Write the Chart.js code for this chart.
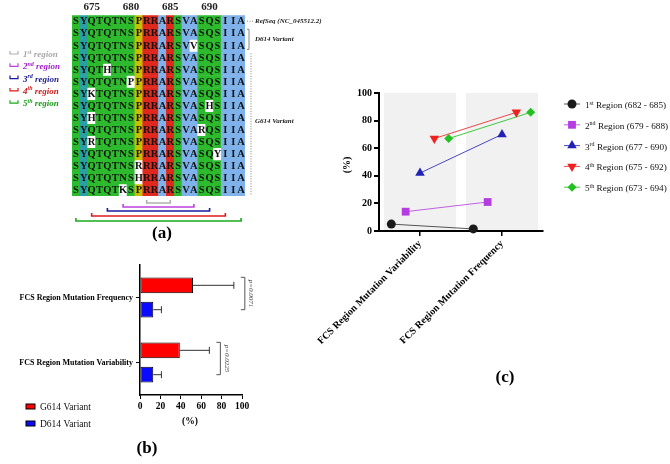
<!DOCTYPE html>
<html>
<head>
<meta charset="utf-8">
<script src="https://cdn.jsdelivr.net/npm/chart.js@4.4.1/dist/chart.umd.min.js"></script>
<style>
  html, body { margin: 0; padding: 0; background: #fff; }
  #wrap { position: relative; width: 670px; height: 464px; overflow: hidden; }
  canvas { position: absolute; }
</style>
</head>
<body>
<div id="wrap">
  <canvas id="alignChart" style="left:0;top:0" width="330" height="250"></canvas>
  <canvas id="barChart" style="left:0;top:250px" width="300" height="214"></canvas>
  <canvas id="regionChart" style="left:300px;top:80px" width="370" height="384"></canvas>
</div>
<script>
// ---- panel (a) data ----
const positions = [673, 674, 675, 676, 677, 678, 679, 680, 681, 682, 683, 684, 685, 686, 687, 688, 689, 690, 691, 692, 693, 694];
const refSeq = ['S', 'Y', 'Q', 'T', 'Q', 'T', 'N', 'S', 'P', 'R', 'R', 'A', 'R', 'S', 'V', 'A', 'S', 'Q', 'S', 'I', 'I', 'A'];
const rowCount = 15;
// mutated residues: row, position, new residue
const mutRows = [2, 4, 5, 6, 7, 8, 9, 10, 11, 12, 13, 14];
const mutPos = [688, 677, 680, 675, 690, 675, 689, 675, 691, 681, 681, 679];
const mutAA = ['V', 'H', 'P', 'K', 'H', 'H', 'R', 'R', 'Y', 'R', 'H', 'K'];
const regionLabels = ['1st', '2nd', '3rd', '4th', '5th'];
const regionStart = [682, 679, 677, 675, 673];
const regionEnd = [685, 688, 690, 692, 694];

// ---- panel (b) data ----
const fcsCategories = ['FCS Region Mutation Frequency', 'FCS Region Mutation Variability'];
const g614Mean = [52, 39];
const g614Err = [40, 29];
const d614Mean = [13, 13];
const d614Err = [8, 8];
const pValues = ['p=0.0071', 'p=0.0225'];

// ---- panel (c) data ----
const cCategories = ['FCS Region Mutation Variability', 'FCS Region Mutation Frequency'];
const regionVariability = [5, 14, 42, 67, 67];
const regionFrequency = [1.5, 21, 70, 86, 86];

const SERIF = '"Liberation Serif", "Times New Roman", serif';
Chart.defaults.font.family = SERIF;
Chart.defaults.color = '#000';

// residue colours (clustal-like)
const aaColor = {
  S: '#2dbb2d', Q: '#2dbb2d', T: '#2dbb2d', N: '#2dbb2d',
  Y: '#2aa0a4', P: '#c4c200', R: '#e0281c',
  A: '#7fb2ea', V: '#7fb2ea', I: '#7fb2ea'
};
const regionColors = ['#b0b0b0', '#c040e0', '#1a1aa0', '#e01a1a', '#1aaa1a'];
const regionTextColors = ['#a8a8a8', '#a020c8', '#1a1a8c', '#cc1a1a', '#1a9a1a'];

// build alignment rows from the reference + mutations
const rows = [];
const mutated = [];
for (let r = 0; r < rowCount; r++) {
  rows.push(refSeq.slice());
  mutated.push(refSeq.map(() => false));
}
mutRows.forEach((r, k) => {
  const i = positions.indexOf(mutPos[k]);
  rows[r][i] = mutAA[k];
  mutated[r][i] = true;
});

function drawOrdinal(ctx, x, y, label, rest, size, style) {
  const num = label.slice(0, -2), suf = label.slice(-2);
  ctx.textAlign = 'left';
  ctx.textBaseline = 'alphabetic';
  ctx.font = `${style} ${size}px ${SERIF}`;
  ctx.fillText(num, x, y);
  x += ctx.measureText(num).width;
  ctx.font = `${style} ${Math.round(size * 0.62)}px ${SERIF}`;
  ctx.fillText(suf, x, y - size * 0.38);
  x += ctx.measureText(suf).width;
  ctx.font = `${style} ${size}px ${SERIF}`;
  ctx.fillText(rest, x, y);
}

// ---------- (a) alignment ----------
const alignPlugin = {
  id: 'alignPlugin',
  afterDatasetsDraw(chart) {
    const { ctx, chartArea, scales: { x, y } } = chart;
    ctx.save();
    ctx.font = `bold 10.5px ${SERIF}`;
    ctx.textAlign = 'center';
    ctx.textBaseline = 'middle';
    ctx.fillStyle = '#111';
    rows.forEach((row, r) => row.forEach((aa, i) => {
      ctx.fillText(aa, x.getPixelForValue(i), y.getPixelForValue(r + 0.5) + 0.5);
    }));

    // right side labels
    const R = chartArea.right;
    ctx.strokeStyle = '#666';
    ctx.lineWidth = 0.8;
    ctx.setLineDash([1, 1.5]);
    ctx.beginPath();
    ctx.moveTo(R + 2, y.getPixelForValue(0.5));
    ctx.lineTo(R + 8, y.getPixelForValue(0.5));
    ctx.moveTo(R + 6, y.getPixelForValue(3) + 2);
    ctx.lineTo(R + 6, y.getPixelForValue(15) - 1);
    ctx.stroke();
    ctx.setLineDash([]);
    ctx.beginPath();
    ctx.moveTo(R + 2, y.getPixelForValue(1) + 2);
    ctx.lineTo(R + 4, y.getPixelForValue(1) + 2);
    ctx.lineTo(R + 4, y.getPixelForValue(3) - 2);
    ctx.lineTo(R + 2, y.getPixelForValue(3) - 2);
    ctx.stroke();
    ctx.fillStyle = '#222';
    ctx.font = `italic bold 7px ${SERIF}`;
    ctx.textAlign = 'left';
    ctx.fillText('RefSeq (NC_045512.2)', R + 10, y.getPixelForValue(0.5));
    ctx.fillText('D614 Variant', R + 10, y.getPixelForValue(2));
    ctx.fillText('G614 Variant', R + 10, y.getPixelForValue(8.8));

    // region brackets under the alignment
    const offs = [7, 11, 15, 20, 25];
    regionStart.forEach((s, k) => {
      const x0 = x.getPixelForValue(positions.indexOf(s));
      const x1 = x.getPixelForValue(positions.indexOf(regionEnd[k]));
      const yy = chartArea.bottom + offs[k];
      ctx.strokeStyle = regionColors[k];
      ctx.lineWidth = 1.6;
      ctx.beginPath();
      ctx.moveTo(x0, yy - 3);
      ctx.lineTo(x0, yy);
      ctx.lineTo(x1, yy);
      ctx.lineTo(x1, yy - 3);
      ctx.stroke();
    });

    // region legend on the left
    regionLabels.forEach((lab, k) => {
      const yy = 54 + k * 12.3;
      ctx.strokeStyle = regionColors[k];
      ctx.lineWidth = 1.2;
      ctx.beginPath();
      ctx.moveTo(10, yy - 3);
      ctx.lineTo(10, yy);
      ctx.lineTo(18, yy);
      ctx.lineTo(18, yy - 3);
      ctx.stroke();
      ctx.fillStyle = regionTextColors[k];
      drawOrdinal(ctx, 23, yy + 3, lab, ' region', 9, 'italic bold');
    });

    ctx.fillStyle = '#000';
    ctx.font = `bold 17px ${SERIF}`;
    ctx.textAlign = 'center';
    ctx.textBaseline = 'middle';
    ctx.fillText('(a)', 162, 234);
    ctx.restore();
  }
};

new Chart(document.getElementById('alignChart'), {
  type: 'bar',
  data: {
    labels: positions.map(String),
    datasets: rows.map((row, r) => ({
      data: row.map(() => [r, r + 1]),
      backgroundColor: row.map((aa, i) => mutated[r][i] ? '#ffffff' : aaColor[refSeq[i]]),
      borderWidth: 0,
      grouped: false,
      barPercentage: 1,
      categoryPercentage: 1
    }))
  },
  options: {
    responsive: false,
    animation: false,
    layout: { padding: { left: 72, right: 85, top: 0, bottom: 54 } },
    plugins: { legend: { display: false }, tooltip: { enabled: false } },
    scales: {
      x: {
        position: 'top',
        grid: { display: false, drawTicks: false },
        border: { display: false },
        ticks: {
          autoSkip: false, maxRotation: 0, padding: 1,
          font: { size: 11, weight: 'bold' }, color: '#222',
          callback: (v, i) => positions[i] % 5 === 0 ? positions[i] : ''
        }
      },
      y: { display: false, reverse: true, min: 0, max: rowCount }
    }
  },
  plugins: [alignPlugin]
});

// ---------- (b) bars ----------
const barPlugin = {
  id: 'barPlugin',
  afterDatasetsDraw(chart) {
    const { ctx, scales: { x } } = chart;
    const gMeta = chart.getDatasetMeta(0).data;
    const dMeta = chart.getDatasetMeta(1).data;
    ctx.save();
    ctx.strokeStyle = '#333';
    ctx.lineWidth = 1;
    const errs = [g614Err, d614Err];
    const means = [g614Mean, d614Mean];
    [gMeta, dMeta].forEach((meta, d) => meta.forEach((bar, i) => {
      const xe = x.getPixelForValue(means[d][i] + errs[d][i]);
      ctx.beginPath();
      ctx.moveTo(bar.x, bar.y);
      ctx.lineTo(xe, bar.y);
      ctx.moveTo(xe, bar.y - 3.5);
      ctx.lineTo(xe, bar.y + 3.5);
      ctx.stroke();
    }));

    // significance brackets
    fcsCategories.forEach((c, i) => {
      const top = gMeta[i].y - 8, bot = dMeta[i].y;
      const bx = Math.max(x.getPixelForValue(g614Mean[i] + g614Err[i]), x.getPixelForValue(d614Mean[i] + d614Err[i])) + 11;
      ctx.strokeStyle = '#555';
      ctx.beginPath();
      ctx.moveTo(bx - 4, top);
      ctx.lineTo(bx, top);
      ctx.lineTo(bx, bot);
      ctx.lineTo(bx - 4, bot);
      ctx.stroke();
      ctx.save();
      ctx.translate(bx + 6, (top + bot) / 2);
      ctx.rotate(Math.PI / 2);
      ctx.fillStyle = '#444';
      ctx.font = `italic 7px ${SERIF}`;
      ctx.textAlign = 'center';
      ctx.textBaseline = 'middle';
      ctx.fillText(pValues[i], 0, 0);
      ctx.restore();
    });

    // legend
    const items = [['G614 Variant', '#ff0000', 154], ['D614 Variant', '#0a0aff', 171]];
    items.forEach(([t, col, yy]) => {
      ctx.fillStyle = col;
      ctx.fillRect(26, yy, 9, 5);
      ctx.strokeStyle = '#000';
      ctx.lineWidth = 1;
      ctx.strokeRect(26, yy, 9, 5);
      ctx.fillStyle = '#111';
      ctx.font = `9.5px ${SERIF}`;
      ctx.textAlign = 'left';
      ctx.textBaseline = 'middle';
      ctx.fillText(t, 40, yy + 3);
    });
    ctx.fillStyle = '#000';
    ctx.textAlign = 'center';
    ctx.font = `bold 9.5px ${SERIF}`;
    ctx.fillText('(%)', 190, 172);
    ctx.font = `bold 17px ${SERIF}`;
    ctx.fillText('(b)', 147, 199);
    ctx.restore();
  }
};

new Chart(document.getElementById('barChart'), {
  type: 'bar',
  data: {
    labels: fcsCategories,
    datasets: [
      { label: 'G614 Variant', data: g614Mean, backgroundColor: '#ff0000', borderColor: '#000', borderWidth: 1, borderSkipped: false },
      { label: 'D614 Variant', data: d614Mean, backgroundColor: '#0a0aff', borderColor: '#000', borderWidth: 1, borderSkipped: false }
    ]
  },
  options: {
    indexAxis: 'y',
    responsive: false,
    animation: false,
    categoryPercentage: 0.75,
    barPercentage: 0.65,
    layout: { padding: { top: 15, right: 58 } },
    plugins: { legend: { display: false }, tooltip: { enabled: false } },
    scales: {
      x: {
        min: 0, max: 100,
        ticks: { stepSize: 20, font: { size: 9.5, weight: 'bold' }, padding: 2, maxRotation: 0, autoSkip: false },
        grid: { drawOnChartArea: false, tickLength: 4, color: '#000' },
        border: { color: '#000', width: 1.5 },
        afterFit: (axis) => { axis.height = 69; }
      },
      y: {
        ticks: { font: { size: 8, weight: 'bold' }, padding: 3 },
        grid: { drawOnChartArea: false, offset: false, tickLength: 4, color: '#000' },
        border: { color: '#000', width: 1.5 },
        afterFit: (axis) => { axis.width = 140; }
      }
    }
  },
  plugins: [barPlugin]
});

// ---------- (c) region scatter ----------
const seriesColors = ['#1a1a1a', '#b43ce0', '#2222b4', '#ee2020', '#22c022'];
const lineColors = ['#555555', '#c060e8', '#4848c0', '#ee4848', '#40c840'];
const seriesStyles = ['circle', 'rect', 'triangle', 'triangle', 'rectRot'];
const seriesRot = [0, 0, 0, 180, 0];
const seriesRadius = [4.5, 5.5, 5.5, 5.5, 4.5];
const dodge = [-0.35, -0.175, 0, 0.175, 0.35];
const regionRanges = regionStart.map((s, k) => ` Region (${s} - ${regionEnd[k]})`);

const regionPlugin = {
  id: 'regionPlugin',
  beforeDatasetsDraw(chart) {
    const { ctx, chartArea, scales: { x } } = chart;
    ctx.save();
    ctx.fillStyle = '#f1f1f1';
    [1, 2].forEach((c) => {
      const x0 = x.getPixelForValue(c - 0.44), x1 = x.getPixelForValue(c + 0.44);
      ctx.fillRect(x0, chartArea.top, x1 - x0, chartArea.bottom - chartArea.top - 1);
    });
    ctx.restore();
  },
  afterDraw(chart) {
    const { ctx } = chart;
    ctx.save();
    regionLabels.forEach((lab, k) => {
      const yy = 24 + k * 20.8;
      ctx.strokeStyle = lineColors[k];
      ctx.lineWidth = 1;
      ctx.beginPath();
      ctx.moveTo(264, yy);
      ctx.lineTo(280, yy);
      ctx.stroke();
      ctx.fillStyle = seriesColors[k];
      Chart.helpers.drawPoint(ctx, { pointStyle: seriesStyles[k], rotation: seriesRot[k], radius: seriesRadius[k], borderWidth: 0 }, 272, yy);
      ctx.fillStyle = '#111';
      drawOrdinal(ctx, 285, yy + 4, lab, regionRanges[k], 9.2, '');
    });
    ctx.fillStyle = '#000';
    ctx.save();
    ctx.translate(47, 85);
    ctx.rotate(-Math.PI / 2);
    ctx.font = `bold 10px ${SERIF}`;
    ctx.textAlign = 'center';
    ctx.textBaseline = 'middle';
    ctx.fillText('(%)', 0, 0);
    ctx.restore();
    ctx.font = `bold 17px ${SERIF}`;
    ctx.textAlign = 'center';
    ctx.textBaseline = 'middle';
    ctx.fillText('(c)', 205, 298);
    ctx.restore();
  }
};

new Chart(document.getElementById('regionChart'), {
  type: 'scatter',
  data: {
    datasets: regionLabels.map((lab, k) => ({
      label: lab + ' Region',
      data: [
        { x: 1 + dodge[k], y: regionVariability[k] },
        { x: 2 + dodge[k], y: regionFrequency[k] }
      ],
      showLine: true,
      borderColor: lineColors[k],
      borderWidth: 1,
      pointStyle: seriesStyles[k],
      pointRotation: seriesRot[k],
      pointRadius: seriesRadius[k],
      pointBackgroundColor: seriesColors[k],
      pointBorderColor: seriesColors[k],
      pointBorderWidth: 0
    }))
  },
  options: {
    responsive: false,
    animation: false,
    clip: false,
    layout: { padding: { top: 13, right: 127 } },
    plugins: { legend: { display: false }, tooltip: { enabled: false } },
    scales: {
      x: {
        type: 'linear', min: 0.5, max: 2.5,
        afterBuildTicks: (axis) => { axis.ticks = [{ value: 1 }, { value: 2 }]; },
        ticks: {
          minRotation: 45, maxRotation: 45, padding: 2,
          font: { size: 10, weight: 'bold' },
          callback: (v) => cCategories[Math.round(v) - 1]
        },
        grid: { drawOnChartArea: false, tickLength: 5, color: '#000', lineWidth: 1.5 },
        border: { color: '#000', width: 2 },
        afterFit: (axis) => { axis.height = 233; }
      },
      y: {
        min: 0, max: 100,
        ticks: { stepSize: 20, font: { size: 10, weight: 'bold' }, padding: 2 },
        grid: { drawOnChartArea: false, tickLength: 5, color: '#000', lineWidth: 2 },
        border: { color: '#000', width: 2 },
        afterFit: (axis) => { axis.width = 70; }
      }
    }
  },
  plugins: [regionPlugin]
});
</script>
</body>
</html>
